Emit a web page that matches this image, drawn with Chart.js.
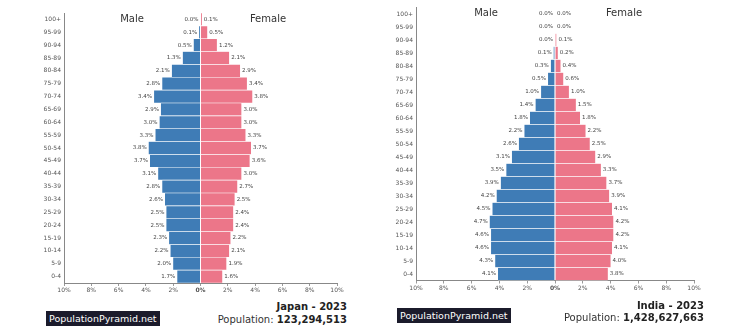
<!DOCTYPE html>
<html><head><meta charset="utf-8">
<script src="https://cdn.jsdelivr.net/npm/chart.js@4/dist/chart.umd.min.js"></script>
<style>
html,body{margin:0;padding:0;background:#fff;width:737px;height:331px;overflow:hidden;font-family:"DejaVu Sans",sans-serif;}
.wrap{position:absolute;top:0;height:300px;}
.t{position:absolute;font-size:10px;color:#333;transform:translate(-50%,-50%);white-space:nowrap;}
.brand{position:absolute;background:#1b1b2b;color:#fff;font-size:9.5px;line-height:15px;padding:0 3px;white-space:nowrap;}
.cty{position:absolute;font-size:10px;font-weight:bold;color:#222;text-align:right;white-space:nowrap;transform:translateY(-50%);}
.pop{position:absolute;font-size:10px;color:#333;text-align:right;white-space:nowrap;transform:translateY(-50%);}
.pop b{color:#222;}
</style></head><body>
<div class="wrap" style="left:0;width:368px;"><canvas id="c1" width="368" height="300"></canvas></div>
<div class="wrap" style="left:370px;width:367px;"><canvas id="c2" width="367" height="300"></canvas></div>
<div class="t" style="left:132px;top:18px;">Male</div>
<div class="t" style="left:268px;top:18px;">Female</div>
<div class="t" style="left:486px;top:12px;">Male</div>
<div class="t" style="left:624px;top:12px;">Female</div>
<div class="brand" style="left:46px;top:311px;">PopulationPyramid.net</div>
<div class="cty" style="right:390px;top:306px;">Japan - 2023</div>
<div class="pop" style="right:390px;top:319px;">Population: <b>123,294,513</b></div>
<div class="brand" style="left:397px;top:308px;">PopulationPyramid.net</div>
<div class="cty" style="right:33px;top:305px;">India - 2023</div>
<div class="pop" style="right:33px;top:317px;">Population: <b>1,428,627,663</b></div>
<script>
const ageGroups = ["100+","95-99","90-94","85-89","80-84","75-79","70-74","65-69","60-64","55-59","50-54","45-49","40-44","35-39","30-34","25-29","20-24","15-19","10-14","5-9","0-4"];
const japanMale   = [0.0,0.1,0.5,1.3,2.1,2.8,3.4,2.9,3.0,3.3,3.8,3.7,3.1,2.8,2.6,2.5,2.5,2.3,2.2,2.0,1.7];
const japanFemale = [0.1,0.5,1.2,2.1,2.9,3.4,3.8,3.0,3.0,3.3,3.7,3.6,3.0,2.7,2.5,2.4,2.4,2.2,2.1,1.9,1.6];
const indiaMale   = [0.0,0.0,0.0,0.1,0.3,0.5,1.0,1.4,1.8,2.2,2.6,3.1,3.5,3.9,4.2,4.5,4.7,4.6,4.6,4.3,4.1];
const indiaFemale = [0.0,0.0,0.1,0.2,0.4,0.6,1.0,1.5,1.8,2.2,2.5,2.9,3.3,3.7,3.9,4.1,4.2,4.2,4.1,4.0,3.8];
const xTicks = [-10,-8,-6,-4,-2,0,2,4,6,8,10];

const MALE_C = '#3f7cb6', FEMALE_C = '#ec7689';

const labelPlugin = {
  id:'barLabels',
  afterDatasetsDraw(chart){
    const ctx = chart.ctx;
    ctx.save();
    ctx.font = '5.5px "DejaVu Sans"';
    ctx.fillStyle = '#444';
    ctx.textBaseline = 'middle';
    chart.data.datasets.forEach((ds,di)=>{
      const meta = chart.getDatasetMeta(di);
      meta.data.forEach((el,i)=>{
        const v = Math.abs(ds.data[i]);
        const txt = v.toFixed(1)+'%';
        if(di===0){ ctx.textAlign='right'; ctx.fillText(txt, Math.min(el.x, el.base)-2, el.y); }
        else { ctx.textAlign='left'; ctx.fillText(txt, Math.max(el.x, el.base)+2, el.y); }
      });
    });
    ctx.restore();
  }
};

function make(id, male, female, pad){
  new Chart(document.getElementById(id), {
    type:'bar',
    data:{
      labels: ageGroups,
      datasets:[
        {label:'Male', data: male.map(v=>-v), backgroundColor: MALE_C, borderColor:'#fff', borderWidth:{top:0.6,bottom:0.6,left:0,right:0}, borderSkipped:false, categoryPercentage:1, barPercentage:1},
        {label:'Female', data: female, backgroundColor: FEMALE_C, borderColor:'#fff', borderWidth:{top:0.6,bottom:0.6,left:0,right:0}, borderSkipped:false, categoryPercentage:1, barPercentage:1}
      ]
    },
    options:{
      indexAxis:'y', responsive:false, animation:false,
      layout:{padding:pad},
      plugins:{legend:{display:false}, tooltip:{enabled:false}},
      scales:{
        x:{
          stacked:true, min:-10, max:10,
          afterBuildTicks(s){ s.ticks = xTicks.map(v=>({value:v})); },
          afterFit(s){ s.height = 14; },
          grid:{display:true, drawOnChartArea:false, tickLength:3, color:'#999'},
          border:{color:'#888', width:1},
          ticks:{
            padding:1, maxRotation:0, autoSkip:false,
            color:'#555',
            font(c){ return {family:'DejaVu Sans', size:6, weight: (c.tick && c.tick.value===0)?'bold':'normal'}; },
            callback(v){ return Math.abs(v)+'%'; }
          }
        },
        y:{
          stacked:true,
          afterFit(s){ s.width = 28; },
          grid:{display:false, drawTicks:false},
          border:{color:'#888', width:1},
          ticks:{color:'#555', font:{family:'DejaVu Sans', size:6}, padding:3, autoSkip:false}
        }
      }
    },
    plugins:[labelPlugin]
  });
}
make('c1', japanMale, japanFemale, {left:36, right:31, top:13, bottom:3});
make('c2', indiaMale, indiaFemale, {left:18, right:43, top:7.5, bottom:5.5});
</script>
</body></html>
